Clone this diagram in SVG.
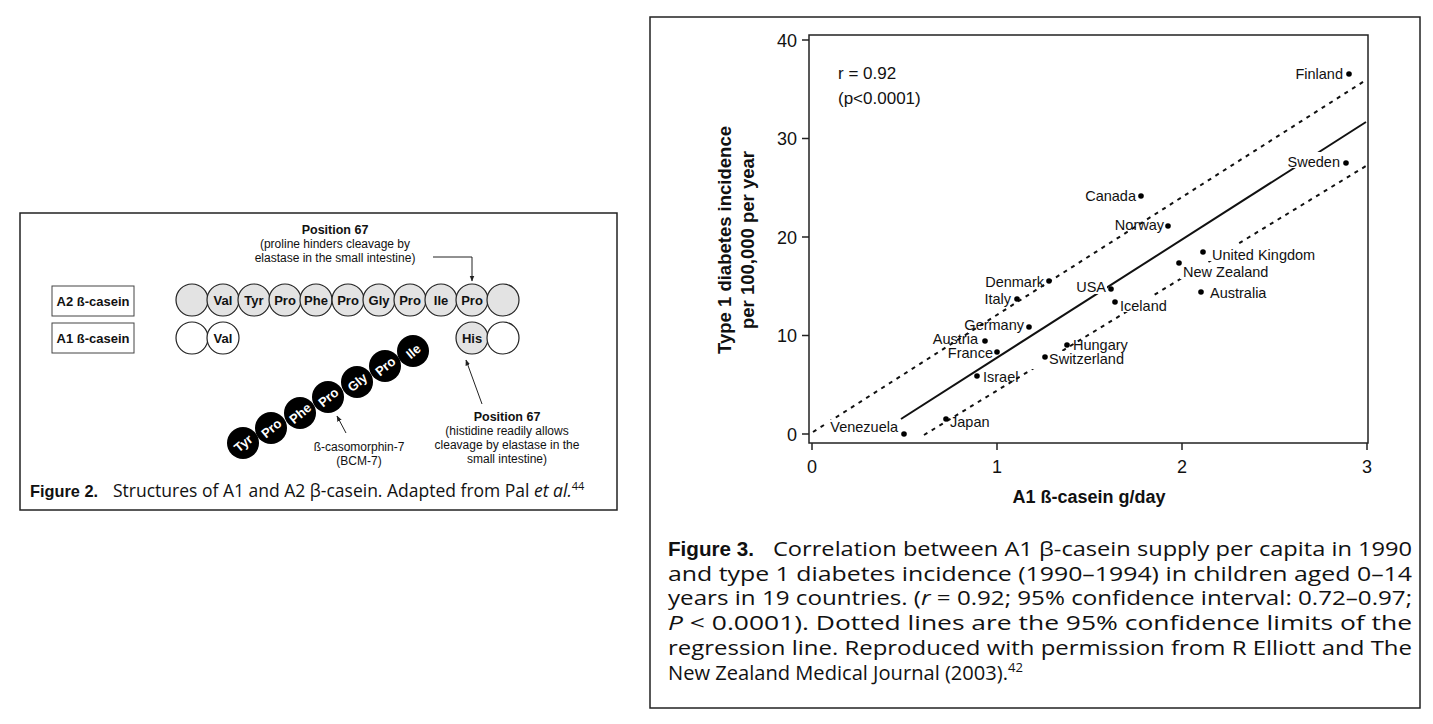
<svg xmlns="http://www.w3.org/2000/svg" width="1433" height="724" viewBox="0 0 1433 724">
<defs>
<style>
text{font-family:"Liberation Sans",Arial,sans-serif;fill:#111}
.aa{font-size:13px;font-weight:bold;text-anchor:middle}
.aw{font-size:13px;font-weight:bold;text-anchor:middle;fill:#fff}
.sm{font-size:12px;text-anchor:middle}
.smb{font-size:12.5px;font-weight:bold;text-anchor:middle}
.g{fill:#e3e3e3;stroke:#222;stroke-width:1.2}
.w{fill:#fff;stroke:#222;stroke-width:1.2}
.b{fill:#000}
.lbl{font-size:14.5px}
.tk{font-size:18px}
.pt{fill:#000}
.cap{font-family:"Open Sans","Liberation Sans",sans-serif;font-size:20px}
</style>
<marker id="ar" viewBox="0 0 10 10" refX="9" refY="5" markerWidth="6" markerHeight="6" orient="auto"><path d="M0,1 L10,5 L0,9 z" fill="#222"/></marker>
</defs>
<rect width="1433" height="724" fill="#fff"/>

<g id="fig2">
<rect x="20" y="213" width="597" height="297" fill="#fff" stroke="#222" stroke-width="1.5"/>
<rect x="52" y="286" width="82" height="30" fill="#fff" stroke="#444"/>
<text x="93" y="306" class="aa">A2 ß-casein</text>
<rect x="52" y="323" width="82" height="30" fill="#fff" stroke="#444"/>
<text x="93" y="343" class="aa">A1 ß-casein</text>
<g id="a2row">
<ellipse cx="192" cy="300" rx="16" ry="16" class="g"/>
<ellipse cx="223" cy="300" rx="16" ry="16" class="g"/><text x="223" y="305" class="aa">Val</text>
<ellipse cx="254" cy="300" rx="16" ry="16" class="g"/><text x="254" y="305" class="aa">Tyr</text>
<ellipse cx="285" cy="300" rx="16" ry="16" class="g"/><text x="285" y="305" class="aa">Pro</text>
<ellipse cx="316" cy="300" rx="16" ry="16" class="g"/><text x="316" y="305" class="aa">Phe</text>
<ellipse cx="348" cy="300" rx="16" ry="16" class="g"/><text x="348" y="305" class="aa">Pro</text>
<ellipse cx="379" cy="300" rx="16" ry="16" class="g"/><text x="379" y="305" class="aa">Gly</text>
<ellipse cx="410" cy="300" rx="16" ry="16" class="g"/><text x="410" y="305" class="aa">Pro</text>
<ellipse cx="441" cy="300" rx="16" ry="16" class="g"/><text x="441" y="305" class="aa">Ile</text>
<ellipse cx="472" cy="300" rx="16" ry="16" class="g"/><text x="472" y="305" class="aa">Pro</text>
<ellipse cx="503" cy="300" rx="16" ry="16" class="g"/>
</g>
<g id="a1row">
<ellipse cx="192" cy="338" rx="16" ry="16" class="w"/>
<ellipse cx="223" cy="338" rx="16" ry="16" class="w"/><text x="223" y="343" class="aa">Val</text>
<ellipse cx="472" cy="338" rx="16" ry="16" class="g"/><text x="472" y="343" class="aa">His</text>
<ellipse cx="503" cy="338" rx="16" ry="16" class="w"/>
</g>
<g id="bcm7">
<circle cx="243" cy="443" r="16" class="b"/><text transform="translate(243,443) rotate(-40)" y="5" class="aw">Tyr</text>
<circle cx="271" cy="428" r="16" class="b"/><text transform="translate(271,428) rotate(-40)" y="5" class="aw">Pro</text>
<circle cx="300" cy="413" r="16" class="b"/><text transform="translate(300,413) rotate(-40)" y="5" class="aw">Phe</text>
<circle cx="328" cy="397" r="16" class="b"/><text transform="translate(328,397) rotate(-40)" y="5" class="aw">Pro</text>
<circle cx="357" cy="382" r="16" class="b"/><text transform="translate(357,382) rotate(-40)" y="5" class="aw">Gly</text>
<circle cx="385" cy="366" r="16" class="b"/><text transform="translate(385,366) rotate(-40)" y="5" class="aw">Pro</text>
<circle cx="413" cy="351" r="16" class="b"/><text transform="translate(413,351) rotate(-40)" y="5" class="aw">Ile</text>
</g>
<text x="335" y="234" class="smb">Position 67</text>
<text x="335" y="248" class="sm">(proline hinders cleavage by</text>
<text x="335" y="262" class="sm">elastase in the small intestine)</text>
<text x="507" y="421" class="smb">Position 67</text>
<text x="507" y="435" class="sm">(histidine readily allows</text>
<text x="507" y="449" class="sm">cleavage by elastase in the</text>
<text x="507" y="463" class="sm">small intestine)</text>
<text x="359" y="451" class="sm">ß-casomorphin-7</text>
<text x="359" y="465" class="sm">(BCM-7)</text>
<text x="30" y="497" style="font-family:'Liberation Sans Narrow','Liberation Sans',sans-serif;font-size:17px;font-weight:bold" textLength="68" lengthAdjust="spacingAndGlyphs">Figure 2.</text>
<text x="113" y="497" style="font-family:'Open Sans','Liberation Sans',sans-serif;font-size:17.5px">Structures of A1 and A2 β-casein. Adapted from Pal <tspan font-style="italic">et al.</tspan><tspan font-size="11" dy="-7">44</tspan></text>
</g>

<g id="fig2-connectors" fill="none" stroke="#222" stroke-width="1">
<path d="M433,257 H472 V281" marker-end="url(#ar)"/>
<path d="M482,404 L466,360" marker-end="url(#ar)"/>
<path d="M346,433 L337,416" marker-end="url(#ar)"/>
</g>

<g id="fig3">
<rect x="650" y="17" width="770" height="691" fill="#fff" stroke="#222" stroke-width="1.5"/>
<rect x="809" y="35" width="559" height="408" fill="none" stroke="#222" stroke-width="1.5"/>
<g stroke="#222" stroke-width="1.5">
<line x1="802" y1="40" x2="809" y2="40"/><line x1="802" y1="138.5" x2="809" y2="138.5"/><line x1="802" y1="237" x2="809" y2="237"/><line x1="802" y1="335.5" x2="809" y2="335.5"/><line x1="802" y1="434" x2="809" y2="434"/>
<line x1="812" y1="443" x2="812" y2="450"/><line x1="997" y1="443" x2="997" y2="450"/><line x1="1182" y1="443" x2="1182" y2="450"/><line x1="1367" y1="443" x2="1367" y2="450"/>
</g>
<text x="797" y="47" class="tk" text-anchor="end">40</text><text x="797" y="145" class="tk" text-anchor="end">30</text><text x="797" y="244" class="tk" text-anchor="end">20</text><text x="797" y="342" class="tk" text-anchor="end">10</text><text x="797" y="441" class="tk" text-anchor="end">0</text>
<text x="812" y="473" class="tk" text-anchor="middle">0</text><text x="997" y="473" class="tk" text-anchor="middle">1</text><text x="1182" y="473" class="tk" text-anchor="middle">2</text><text x="1367" y="473" class="tk" text-anchor="middle">3</text>
<text x="1089" y="503" text-anchor="middle" style="font-size:18px;font-weight:bold">A1 ß-casein g/day</text>
<text transform="translate(731,240) rotate(-90)" text-anchor="middle" style="font-size:18.5px;font-weight:bold">Type 1 diabetes incidence</text>
<text transform="translate(754,240) rotate(-90)" text-anchor="middle" style="font-size:18.5px;font-weight:bold">per 100,000 per year</text>
<text x="838" y="79" style="font-size:17px">r = 0.92</text>
<text x="838" y="104" style="font-size:17px">(p&lt;0.0001)</text>
</g>

<g id="regression" fill="none" stroke="#111">
<line x1="901" y1="419" x2="1366" y2="122" stroke-width="2"/>
<line x1="813" y1="432" x2="1366" y2="80" stroke-width="2" stroke-dasharray="4,5"/>
<line x1="924" y1="435" x2="1366" y2="166" stroke-width="2" stroke-dasharray="4,5"/>
</g>

<g id="points">
<rect x="1290" y="63" width="56" height="16" fill="#fff"/>
<rect x="1284" y="152" width="58" height="16" fill="#fff"/>
<rect x="1074" y="278" width="33" height="16" fill="#fff"/>
<rect x="1118" y="296" width="55" height="16" fill="#fff"/>
<rect x="1017" y="353" width="32" height="16" fill="#fff"/>
<rect x="1047" y="351" width="88" height="16" fill="#fff"/>
<rect x="1180" y="263" width="100" height="16" fill="#fff"/>
<rect x="1185" y="245" width="140" height="16" fill="#fff"/>
<rect x="826" y="420" width="72" height="16" fill="#fff"/>
<circle cx="1349" cy="74" r="2.8" class="pt"/><text x="1343" y="79" text-anchor="end" class="lbl">Finland</text>
<circle cx="1346" cy="163" r="2.8" class="pt"/><text x="1340" y="167" text-anchor="end" class="lbl">Sweden</text>
<circle cx="1141" cy="196" r="2.8" class="pt"/><text x="1136" y="201" text-anchor="end" class="lbl">Canada</text>
<circle cx="1168" cy="226" r="2.8" class="pt"/><text x="1164" y="230" text-anchor="end" class="lbl">Norway</text>
<circle cx="1203" cy="252" r="2.8" class="pt"/><text x="1212" y="260" class="lbl">United Kingdom</text>
<circle cx="1179" cy="263" r="2.8" class="pt"/><text x="1183" y="277" class="lbl">New Zealand</text>
<circle cx="1201" cy="292" r="2.8" class="pt"/><text x="1210" y="298" class="lbl">Australia</text>
<circle cx="1111" cy="289" r="2.8" class="pt"/><text x="1106" y="292" text-anchor="end" class="lbl">USA</text>
<circle cx="1115" cy="302" r="2.8" class="pt"/><text x="1120" y="311" class="lbl">Iceland</text>
<circle cx="1049" cy="281" r="2.8" class="pt"/><text x="1044" y="287" text-anchor="end" class="lbl">Denmark</text>
<circle cx="1017" cy="299" r="2.8" class="pt"/><text x="1011" y="304" text-anchor="end" class="lbl">Italy</text>
<circle cx="1029" cy="327" r="2.8" class="pt"/><text x="1024" y="330" text-anchor="end" class="lbl">Germany</text>
<circle cx="985" cy="341" r="2.8" class="pt"/><text x="978" y="344" text-anchor="end" class="lbl">Austria</text>
<circle cx="997" cy="352" r="2.8" class="pt"/><text x="993" y="358" text-anchor="end" class="lbl">France</text>
<circle cx="1067" cy="345" r="2.8" class="pt"/><text x="1073" y="350" class="lbl">Hungary</text>
<circle cx="1045" cy="357" r="2.8" class="pt"/><text x="1049" y="364" class="lbl">Switzerland</text>
<circle cx="977" cy="376" r="2.8" class="pt"/><text x="983" y="382" class="lbl">Israel</text>
<circle cx="946" cy="419" r="2.8" class="pt"/><text x="950" y="427" class="lbl">Japan</text>
<circle cx="904" cy="434" r="2.8" class="pt"/><text x="898" y="432" text-anchor="end" class="lbl">Venezuela</text>
</g>

<g id="caption3">
<text x="668" y="556" style="font-family:'Liberation Sans Narrow','Liberation Sans',sans-serif;font-size:20px;font-weight:bold" textLength="86" lengthAdjust="spacingAndGlyphs">Figure 3.</text>
<text x="773" y="556" class="cap" textLength="639" lengthAdjust="spacingAndGlyphs">Correlation between A1 β-casein supply per capita in 1990</text>
<text x="668" y="581" class="cap" textLength="744" lengthAdjust="spacingAndGlyphs">and type 1 diabetes incidence (1990–1994) in children aged 0–14</text>
<text x="668" y="605" class="cap" textLength="744" lengthAdjust="spacingAndGlyphs">years in 19 countries. (<tspan font-style="italic">r</tspan> = 0.92; 95% confidence interval: 0.72–0.97;</text>
<text x="668" y="630" class="cap" textLength="744" lengthAdjust="spacingAndGlyphs"><tspan font-style="italic">P</tspan> &lt; 0.0001). Dotted lines are the 95% confidence limits of the</text>
<text x="668" y="655" class="cap" textLength="744" lengthAdjust="spacingAndGlyphs">regression line. Reproduced with permission from R Elliott and The</text>
<text x="668" y="680" class="cap" textLength="355" lengthAdjust="spacingAndGlyphs">New Zealand Medical Journal (2003).<tspan font-size="13" dy="-8">42</tspan></text>
</g>
</svg>
